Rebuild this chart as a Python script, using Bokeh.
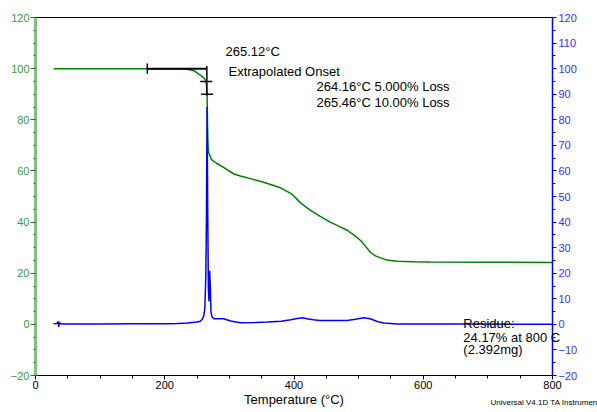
from bokeh.plotting import figure
from bokeh.models import Range1d, LinearAxis, SingleIntervalTicker, Label
from bokeh.embed import file_html
from bokeh.resources import INLINE

# TGA weight curve (left axis, %)
temp_tga = [28, 100, 200, 217, 235, 245, 255, 260, 263, 264.5, 265.5, 266.2, 267.0, 268.0,
            270, 272, 280, 291, 307, 317, 337, 359, 379, 395, 399, 410, 425, 440, 456, 470,
            483, 495, 503, 510, 518, 526, 534, 542, 549, 560, 585, 611, 700, 800]
weight_pct = [100, 100, 100, 100, 99.8, 99.2, 97.5, 96.5, 95.5, 94, 90, 78, 70, 67,
              66, 64.5, 63, 61.4, 58.8, 58.0, 56.7, 55.1, 53.4, 51.2, 50.4, 47.5, 44.7, 42.3, 40, 38.3,
              36.7, 34.5, 32.8, 30.8, 28.2, 26.8, 26, 25.3, 25, 24.7, 24.5, 24.4, 24.3, 24.17]

# Derivative weight curve (right axis)
temp_dtg = [28, 33, 35, 36, 37, 38, 40, 45, 100, 150, 200, 220, 235, 250, 255, 258, 260, 262,
            263.5, 264.5, 265.5, 266.5, 267.5, 268.5, 269.5, 270.5, 271.5, 273,
            276, 280, 291, 302, 317, 340, 359, 380, 395, 405,
            413, 420, 430, 440, 461, 482, 495, 508, 518, 530,
            539, 560, 600, 700, 800]
deriv = [0.2, 0.3, 1.2, -1.0, 0.8, 0.2, 0.2, 0.1, 0.1, 0.2, 0.2, 0.3, 0.5, 0.9, 1.2, 2.0, 3.0, 6.0,
         18, 40, 85, 45, 14, 9, 21, 15, 5, 3,
         2.2, 2.2, 2.2, 1.3, 0.6, 0.7, 0.9, 1.2, 1.8, 2.3,
         2.6, 2.2, 1.8, 1.5, 1.5, 1.5, 2.0, 2.6, 2.2, 1.0,
         0.5, 0.1, 0.1, 0.1, 0.0]

# Onset construction values
baseline_start_temp = 173
baseline_level = 100
onset_temp = 265.12
loss_temps = [264.16, 265.46]
loss_levels = [95, 90]

FONT = "Liberation Sans"

p = figure(frame_width=517, frame_height=358, output_backend="svg", toolbar_location=None,
           x_range=Range1d(0, 800), y_range=Range1d(-20, 120),
           min_border_left=35, min_border_right=45, min_border_top=17, min_border_bottom=37,
           background_fill_color="white", border_fill_color="white")
p.extra_y_ranges = {"dtg": Range1d(-20, 120)}
p.grid.visible = False
p.outline_line_color = "black"
p.outline_line_width = 1

# x axis
xa = p.xaxis[0]
xa.ticker = SingleIntervalTicker(interval=200, num_minor_ticks=4)
xa.axis_line_color = "black"
xa.major_tick_line_color = "black"
xa.minor_tick_line_color = "black"
xa.major_tick_out = 4
xa.major_tick_in = 0
xa.minor_tick_out = 3
xa.minor_tick_in = 0
xa.major_label_text_font = FONT
xa.major_label_text_font_size = "11px"
xa.major_label_text_color = "black"
xa.major_label_standoff = 1
xa.axis_label = "Temperature (°C)"
xa.axis_label_text_font = FONT
xa.axis_label_text_font_size = "13px"
xa.axis_label_text_font_style = "normal"
xa.axis_label_text_color = "black"
xa.axis_label_standoff = 0

# left axis
ya = p.yaxis[0]
ya.ticker = SingleIntervalTicker(interval=20, num_minor_ticks=4)
ya.axis_line_color = "#80c080"
ya.axis_line_width = 3
ya.major_tick_line_color = "#2a6a2a"
ya.minor_tick_line_color = "#2a6a2a"
ya.major_tick_out = 5
ya.major_tick_in = 0
ya.minor_tick_out = 2
ya.minor_tick_in = 0
ya.major_label_text_font = FONT
ya.major_label_text_font_size = "11px"
ya.major_label_text_color = "#3a9a3a"
ya.major_label_standoff = 1

# right axis
ra = LinearAxis(y_range_name="dtg", ticker=SingleIntervalTicker(interval=10, num_minor_ticks=2))
ra.axis_line_color = "blue"
ra.axis_line_width = 1.5
ra.major_tick_line_color = "blue"
ra.minor_tick_line_color = "blue"
ra.major_tick_out = 4
ra.major_tick_in = 0
ra.minor_tick_out = 3
ra.minor_tick_in = 0
ra.major_label_text_font = FONT
ra.major_label_text_font_size = "11px"
ra.major_label_text_color = "#3030ff"
ra.major_label_standoff = 2
p.add_layout(ra, "right")

# curves
p.line(temp_tga, weight_pct, line_color="#008000", line_width=1.5)
p.line(temp_dtg, deriv, line_color="#0000ff", line_width=1.5, y_range_name="dtg")

# onset construction
p.line([baseline_start_temp, onset_temp], [baseline_level, baseline_level], line_color="black", line_width=2)
p.segment(x0=[baseline_start_temp], y0=[baseline_level - 2], x1=[baseline_start_temp], y1=[baseline_level + 2],
          line_color="black", line_width=1.5)
p.segment(x0=[onset_temp], y0=[baseline_level + 1], x1=[onset_temp], y1=[loss_levels[1] - 0.5],
          line_color="black", line_width=1.5)
p.scatter(loss_temps, loss_levels, marker="dash", size=12, line_color="black", line_width=1.5)

def lab(x, y, t, size="13px", align="left", place=None):
    l = Label(x=x, y=y, text=t, text_font=FONT, text_font_size=size,
              text_color="black", text_align=align, text_baseline="middle")
    if place is None:
        p.add_layout(l)
    else:
        p.add_layout(l, place)

lab(294, 106.7, "265.12°C")
lab(298.6, 98.9, "Extrapolated Onset")
lab(434.8, 93.1, "264.16°C 5.000% Loss")
lab(434.8, 86.9, "265.46°C 10.00% Loss")
lab(662, 0.2, "Residue:")
lab(662, -5.1, "24.17% at 800 C", place="right")
lab(662, -9.9, "(2.392mg)")
lab(704, -30.4, "Universal V4.1D TA Instruments", size="8px", place="below")

open("out.html", "w").write(file_html(p, INLINE))
